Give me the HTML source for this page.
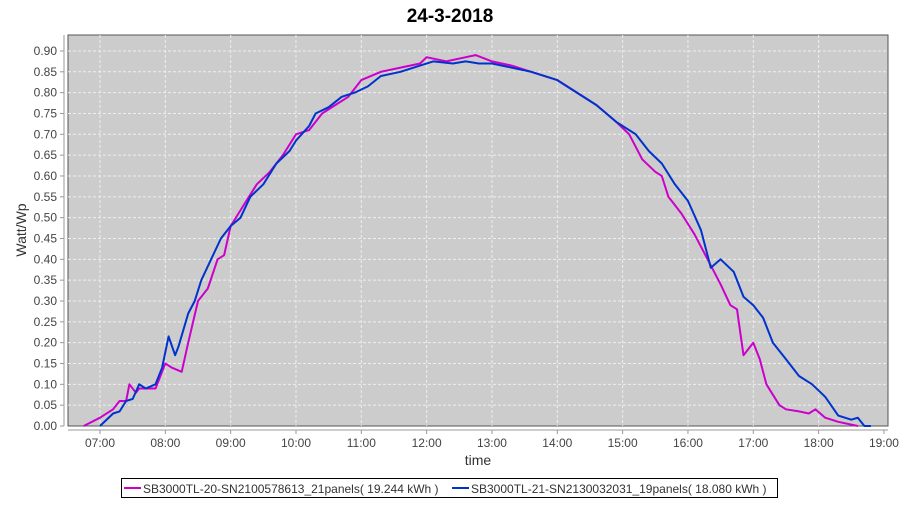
<!DOCTYPE html>
<html><head><meta charset="utf-8"><style>
body{margin:0;background:#fff;width:900px;height:500px;overflow:hidden;font-family:"Liberation Sans",sans-serif}
</style></head><body>
<svg id="s" width="900" height="500" xmlns="http://www.w3.org/2000/svg" font-family="Liberation Sans, sans-serif">
<text x="450" y="22" text-anchor="middle" font-size="19" font-weight="bold">24-3-2018</text>
<rect x="68" y="35" width="820" height="391" fill="#cccccc" stroke="#555" stroke-width="1"/>
<g id="grid" stroke="#eee" stroke-dasharray="3,2" stroke-width="1"></g>
<g id="axes" font-size="12" fill="#444"></g>
<line x1="64" y1="35" x2="64" y2="426" stroke="#999"/>
<line x1="68" y1="430" x2="888" y2="430" stroke="#999"/>
<text x="26" y="230" transform="rotate(-90 26 230)" text-anchor="middle" font-size="14" fill="#333">Watt/Wp</text>
<text x="478" y="465" text-anchor="middle" font-size="14" fill="#333">time</text>
<polyline id="pa" fill="none" stroke="#cc00cc" stroke-width="2" stroke-linejoin="round"/>
<polyline id="pb" fill="none" stroke="#0033cc" stroke-width="2" stroke-linejoin="round"/>
<rect x="121.5" y="478.5" width="656" height="19" fill="#fff" stroke="#000"/>
<line x1="124" y1="488" x2="141" y2="488" stroke="#cc00cc" stroke-width="2"/>
<text x="143" y="493" font-size="12" fill="#333">SB3000TL-20-SN2100578613_21panels( 19.244 kWh )</text>
<line x1="452" y1="488" x2="469" y2="488" stroke="#0033cc" stroke-width="2"/>
<text x="471" y="493" font-size="12" fill="#333">SB3000TL-21-SN2130032031_19panels( 18.080 kWh )</text>
</svg>
<script>
var X=t=>100+65.33*(t-7), Y=v=>426-v*416.7;
var g=document.getElementById('grid'),a=document.getElementById('axes'),ns='http://www.w3.org/2000/svg';
function el(p,n,at,tx){var e=document.createElementNS(ns,n);for(var k in at)e.setAttribute(k,at[k]);if(tx)e.textContent=tx;p.appendChild(e);}
for(var i=0;i<=18;i++){var v=i*0.05,y=Y(v);if(i>0)el(g,'line',{x1:68,x2:888,y1:y,y2:y});
el(a,'line',{x1:60,x2:64,y1:y,y2:y,stroke:'#999'});el(a,'text',{x:57,y:y+4,'text-anchor':'end'},v.toFixed(2));}
for(var h=7;h<=19;h++){var x=X(h);if(h<19)el(g,'line',{x1:x,x2:x,y1:35,y2:426});
el(a,'line',{x1:x,x2:x,y1:430,y2:434,stroke:'#999'});el(a,'text',{x:x,y:447,'text-anchor':'middle'},(h<10?'0':'')+h+':00');}
var A=[6.75,0,7.0,0.02,7.2,0.04,7.3,0.06,7.4,0.06,7.45,0.10,7.55,0.08,7.6,0.09,7.75,0.09,7.85,0.09,7.95,0.13,8.0,0.15,8.1,0.14,8.25,0.13,8.35,0.20,8.5,0.30,8.65,0.33,8.8,0.40,8.9,0.41,9.0,0.48,9.2,0.53,9.4,0.58,9.6,0.61,9.8,0.65,10.0,0.70,10.2,0.71,10.4,0.75,10.6,0.77,10.8,0.79,11.0,0.83,11.3,0.85,11.6,0.86,11.9,0.87,12.0,0.885,12.3,0.875,12.6,0.885,12.75,0.89,13.0,0.875,13.3,0.865,13.6,0.85,14.0,0.83,14.3,0.80,14.6,0.77,14.9,0.73,15.1,0.70,15.3,0.64,15.5,0.61,15.6,0.60,15.7,0.55,15.9,0.51,16.1,0.46,16.3,0.40,16.5,0.34,16.65,0.29,16.75,0.28,16.85,0.17,17.0,0.20,17.1,0.16,17.2,0.10,17.4,0.05,17.5,0.04,17.7,0.035,17.85,0.03,17.95,0.04,18.1,0.02,18.3,0.01,18.6,0.0];
var B=[7.0,0,7.2,0.03,7.3,0.035,7.4,0.06,7.5,0.065,7.6,0.10,7.7,0.09,7.85,0.10,7.95,0.14,8.05,0.215,8.15,0.17,8.2,0.19,8.35,0.27,8.45,0.30,8.55,0.35,8.7,0.40,8.85,0.45,9.0,0.48,9.15,0.50,9.3,0.55,9.5,0.58,9.7,0.63,9.9,0.66,10.0,0.685,10.2,0.72,10.3,0.75,10.5,0.765,10.7,0.79,10.9,0.80,11.1,0.815,11.3,0.84,11.6,0.85,11.9,0.865,12.1,0.875,12.4,0.87,12.6,0.875,12.8,0.87,13.0,0.87,13.3,0.86,13.6,0.85,14.0,0.83,14.3,0.80,14.6,0.77,14.9,0.73,15.2,0.70,15.4,0.66,15.6,0.63,15.8,0.58,16.0,0.54,16.2,0.47,16.35,0.38,16.5,0.40,16.7,0.37,16.85,0.31,17.0,0.29,17.15,0.26,17.3,0.20,17.5,0.16,17.7,0.12,17.9,0.10,18.1,0.07,18.3,0.025,18.5,0.015,18.6,0.02,18.7,0,18.8,0];
function pts(d){var s=[];for(var i=0;i<d.length;i+=2)s.push(X(d[i]).toFixed(1)+','+Y(d[i+1]).toFixed(1));return s.join(' ');}
document.getElementById('pa').setAttribute('points',pts(A));
document.getElementById('pb').setAttribute('points',pts(B));
</script>
</body></html>
